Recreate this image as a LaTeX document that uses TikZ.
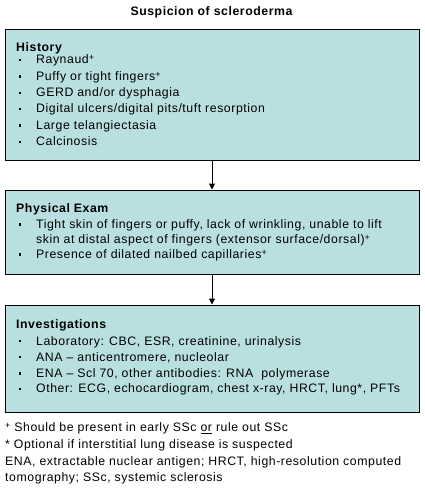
\documentclass[tikz,border=0pt]{standalone}
\usepackage{fontspec}
\setmainfont{Liberation Sans}[LetterSpace=4.5]
\usetikzlibrary{arrows.meta}
\definecolor{boxfill}{RGB}{186,223,225}
\newcommand{\bul}{\makebox[17.5pt][l]{\raisebox{2.6pt}{\rule{2.4pt}{2.4pt}}}}
\newcommand{\plussup}{\raisebox{3.2pt}{\fontsize{9}{9}\selectfont+}}
\tikzset{
  box/.style={draw=black, line width=1pt, fill=boxfill, minimum width=414pt, inner sep=0pt},
  txt/.style={anchor=base west, inner sep=0pt, font=\fontsize{12.3}{14}\selectfont},
  head/.style={anchor=base west, inner sep=0pt, font=\fontsize{12.3}{14}\selectfont\bfseries},
  arr/.style={draw=black, line width=1pt, -{Triangle[width=6pt,length=6pt]}}
}
\begin{document}
\begin{tikzpicture}[x=1pt,y=-1pt]
\useasboundingbox (0,0) rectangle (424,492);
\node[head, anchor=base] (title) at (211.5,16) {Suspicion of scleroderma};

\node[box, minimum height=130pt] (hist) at (212,95) {};
\node[head] (h0) at (16,51.7) {History};
\node[txt] (h1) at (18.5,64) {\bul Raynaud\plussup};
\node[txt] (h2) at (18.5,80.3) {\bul Puffy or tight fingers\plussup};
\node[txt] (h3) at (18.5,96.7) {\bul GERD and/or dysphagia};
\node[txt] (h4) at (18.5,113) {\bul Digital ulcers/digital pits/tuft resorption};
\node[txt] (h5) at (18.5,129.3) {\bul Large telangiectasia};
\node[txt] (h6) at (18.5,145.7) {\bul Calcinosis};

\node[box, minimum height=84pt] (pe) at (212,232) {};
\node[head] (p0) at (16,212.3) {Physical Exam};
\node[txt] (p1) at (18.5,228.3) {\bul Tight skin of fingers or puffy, lack of wrinkling, unable to lift};
\node[txt] (p1b) at (36,243.3) {skin at distal aspect of fingers (extensor surface/dorsal)\plussup};
\node[txt] (p2) at (18.5,258.3) {\bul Presence of dilated nailbed capillaries\plussup};

\node[box, minimum height=107pt] (inv) at (212,358.5) {};
\node[head] (i0) at (16,328.3) {Investigations};
\node[txt] (i1) at (18.5,345) {\bul Laboratory: CBC, ESR, creatinine, urinalysis};
\node[txt] (i2) at (18.5,361) {\bul ANA -- anticentromere, nucleolar};
\node[txt] (i3) at (18.5,377.3) {\bul ENA -- Scl 70, other antibodies: RNA\ \ polymerase};
\node[txt] (i4) at (18.5,392.7) {\bul Other: ECG, echocardiogram, chest x-ray, HRCT, lung*, PFTs};

\draw[arr] (hist.south) -- (pe.north);
\draw[arr] (pe.south) -- (inv.north);

\node[txt] (f1) at (5,431.7) {\plussup\ Should be present in early SSc \underline{or} rule out SSc};
\node[txt] (f2) at (5,448.5) {* Optional if interstitial lung disease is suspected};
\node[txt] (f3) at (5,465) {ENA, extractable nuclear antigen; HRCT, high-resolution computed};
\node[txt] (f4) at (5,481.5) {tomography; SSc, systemic sclerosis};
\end{tikzpicture}
\end{document}
